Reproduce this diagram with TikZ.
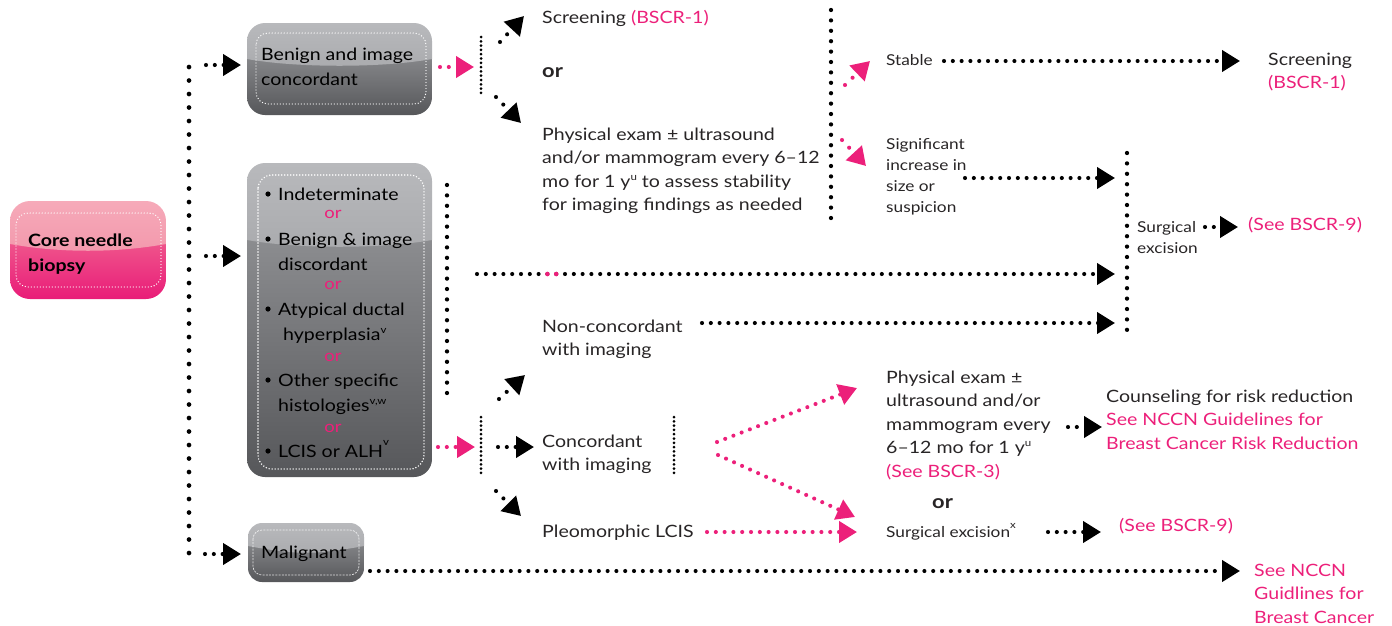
\documentclass[tikz,border=0pt]{standalone}
\usepackage{fontspec}
\setmainfont{Lato}[FakeStretch=1.15]
\usetikzlibrary{arrows.meta}

\definecolor{pinkc}{RGB}{236,32,122}
\definecolor{textc}{RGB}{40,37,38}
\definecolor{gA}{RGB}{184,185,188}
\definecolor{gB}{RGB}{170,171,174}
\definecolor{gC}{RGB}{142,143,146}
\definecolor{gD}{RGB}{86,87,90}
\definecolor{pA}{RGB}{246,170,185}
\definecolor{pB}{RGB}{243,152,172}
\definecolor{pC}{RGB}{240,95,143}
\definecolor{pD}{RGB}{233,28,120}

\newcommand\fsMain{\fontsize{17}{23.6}\selectfont}
\newcommand\fsBox{\fontsize{17}{25.5}\selectfont}
\newcommand\fsSmall{\fontsize{15}{21}\selectfont}
\newcommand\mlines[1]{\begin{tabular}[t]{@{}l@{}}#1\end{tabular}}
\newcommand\supx[2][7pt]{\raisebox{#1}{\fontsize{10}{10}\selectfont #2}}

% glossy rounded box: x1 y1 x2 y2 gloss-line colour-prefix radius
\newcommand\glossbox[7]{%
  \begin{scope}
    \clip[rounded corners=#7] (#1,#2) rectangle (#3,#4);
    \shade[top color=#6C, bottom color=#6D] (#1,#5-12) rectangle (#3,#4);
    \shade[top color=#6A, bottom color=#6B] (#1,#2) -- (#3,#2) -- (#3,#5)
      .. controls +(-50,9) and +(50,9) .. (#1,#5) -- cycle;
  \end{scope}}

\begin{document}
\begin{tikzpicture}[x=1pt,y=-1pt,
  trunk/.style={line width=4.7pt, line cap=round, dash pattern=on 0pt off 13.5pt},
  vdots/.style={line width=4.3pt, line cap=round, dash pattern=on 0pt off 10.4pt},
  hdots/.style={line width=4.1pt, line cap=round, dash pattern=on 0pt off 8.8pt},
  ddots/.style={line width=4.1pt, line cap=round, dash pattern=on 0pt off 10.5pt},
  bar/.style={line width=3.0pt, line cap=round, dash pattern=on 0pt off 4.3pt},
  tipk/.style={-{Triangle[length=18pt,width=21pt]}},
  blk/.style={hdots, tipk},
  pnk/.style={hdots, pinkc, tipk},
  dblk/.style={ddots, tipk},
  dpnk/.style={ddots, pinkc, tipk},
  innerdots/.style={white, line width=1.4pt, line cap=round, dash pattern=on 0pt off 3pt},
  txt/.style={anchor=base west, inner sep=0pt, font=\fsMain, text=textc},
  smalltxt/.style={anchor=base west, inner sep=0pt, font=\fsSmall, text=textc},
  boxtxt/.style={anchor=base west, inner sep=0pt, font=\fsBox, text=black},
  ortxt/.style={anchor=base, inner sep=0pt, font=\fontsize{16}{16}\selectfont, text=pinkc},
  boldor/.style={anchor=base west, inner sep=0pt, font=\fontsize{19}{19}\selectfont\bfseries, text=textc},
  pinktxt/.style={txt, text=pinkc}]

\useasboundingbox (0,0) rectangle (1392,625);

% ---------- boxes ----------
\glossbox{10}{201}{166}{299}{244}{p}{20pt}
\draw[innerdots, rounded corners=12pt] (16,213) rectangle (161,287);

\glossbox{247}{23}{432}{115}{59}{g}{18pt}
\draw[innerdots, rounded corners=12pt] (256,33) rectangle (426,104);

\glossbox{247}{163}{432}{477}{240}{g}{18pt}
\draw[innerdots, line width=1.6pt, rounded corners=14pt] (258,175) rectangle (424,469);

\glossbox{248}{523}{364}{582}{546}{g}{14pt}
\draw[white, line width=0.7pt, dash pattern=on 2pt off 1.2pt, opacity=0.8, rounded corners=9pt] (253,530) rectangle (359,575);

% ---------- box texts ----------
\node[boxtxt, font=\fsBox\bfseries] (core) at (28,246) {\mlines{Core needle\\biopsy}};
\node[boxtxt] (benign) at (261,60) {\mlines{Benign and image\\concordant}};

\foreach \yy in {194,239,309,380,451} \fill (268,\yy) circle (2.6pt);
\node[boxtxt] (indet) at (278,200) {Indeterminate};
\node[ortxt] (or1) at (333,218) {or};
\node[boxtxt] (discord) at (278,245) {\mlines{Benign \& image\\discordant}};
\node[ortxt] (or2) at (333,289) {or};
\node[boxtxt] (atyp) at (278,315) {\mlines{Atypical ductal\\\hspace{5pt}hyperplasia\supx{v}}};
\node[ortxt] (or3) at (333,361) {or};
\node[boxtxt] (other) at (278,386) {\mlines{Other specific\\histologies\supx{v,w}}};
\node[ortxt] (or4) at (333,432) {or};
\node[boxtxt] (lcis) at (278,457) {LCIS or ALH\supx[12pt]{v}};

\node[boxtxt] (malig) at (261,558) {Malignant};

% ---------- outcome texts ----------
\node[txt] (scr1) at (542,23) {Screening {\color{pinkc}(BSCR-1)}};
\node[boldor] (or5) at (542,77) {or};
\node[txt] (pe1) at (542,140) {\mlines{Physical exam ± ultrasound\\and/or mammogram every 6–12\\mo for 1 y\supx{u} to assess stability\\for imaging findings as needed}};

\node[smalltxt] (stable) at (886,65) {Stable};
\node[txt] (scr2) at (1268,65) {\mlines{Screening\\{\color{pinkc}(BSCR-1)}}};
\node[smalltxt] (signif) at (886,149) {\mlines{Significant\\increase in\\size or\\suspicion}};
\node[smalltxt] (surg) at (1137,232) {\mlines{Surgical\\excision}};
\node[pinktxt] (see9a) at (1248,230) {(See BSCR-9)};

\node[txt] (noncon) at (542,332) {\mlines{Non-concordant\\with imaging}};
\node[txt] (concord) at (542,447) {\mlines{Concordant\\with imaging}};
\node[txt] (pleo) at (542,537) {Pleomorphic LCIS};

\node[txt] (pe2) at (886,383) {\mlines{Physical exam ±\\ultrasound and/or\\mammogram every\\6–12 mo for 1 y\supx{u}\\{\color{pinkc}(See BSCR-3)}}};
\node[boldor] (or6) at (932,508) {or};
\node[smalltxt] (surg2) at (886,537) {Surgical excision\supx[9pt]{x}};
\node[pinktxt] (see9b) at (1119,531) {(See BSCR-9)};
\node[txt] (couns) at (1106,402) {\mlines{Counseling for risk reduction\\{\color{pinkc}See NCCN Guidelines for}\\{\color{pinkc}Breast Cancer Risk Reduction}}};
\node[pinktxt] (nccn) at (1254,576) {\mlines{See NCCN\\Guidlines for\\Breast Cancer}};

% ---------- connector end points ----------
\coordinate (trT) at (189,67);   \coordinate (trB) at (189,554);
\coordinate (a1s) at (206,65);   \coordinate (a1e) at (241,65);
\coordinate (a2s) at (206,256);  \coordinate (a2e) at (241,256);
\coordinate (a3s) at (205,554);  \coordinate (a3e) at (241,554);
\coordinate (b1s) at (440,67);   \coordinate (b1e) at (474,67);
\coordinate (bar1T) at (481,37); \coordinate (bar1B) at (481,97);
\coordinate (c1s) at (500,42);   \coordinate (c1e) at (524,16);
\coordinate (c2s) at (496,97);   \coordinate (c2e) at (521,123);
\coordinate (v1T) at (831,10);   \coordinate (v1B) at (831,224);
\coordinate (d1s) at (845,85);   \coordinate (d1e) at (870,61);
\coordinate (d2s) at (842,140);  \coordinate (d2e) at (866,166);
\coordinate (e1s) at (944,61);   \coordinate (e1e) at (1240,61);
\coordinate (e2s) at (965,178);  \coordinate (e2e) at (1115,178);
\coordinate (v2T) at (1127,153); \coordinate (v2B) at (1127,337);
\coordinate (e3s) at (1205,227); \coordinate (e3e) at (1238,227);
\coordinate (v3T) at (447,185);  \coordinate (v3B) at (447,398);
\coordinate (e4s) at (477,274);  \coordinate (e4e) at (1115,274);
\coordinate (e5s) at (702,323);  \coordinate (e5e) at (1115,323);
\coordinate (f1s) at (438,447);  \coordinate (f1e) at (475,447);
\coordinate (bar2T) at (481,417);\coordinate (bar2B) at (481,477);
\coordinate (g1s) at (499,399);  \coordinate (g1e) at (525,375);
\coordinate (g2s) at (498,447);  \coordinate (g2e) at (534,447);
\coordinate (g3s) at (496,491);  \coordinate (g3e) at (521,516);
\coordinate (bar3T) at (674,417);\coordinate (bar3B) at (674,477);
\coordinate (h1s) at (717,442);  \coordinate (h1e) at (857,388);
\coordinate (h2s) at (718,455);  \coordinate (h2e) at (855,517);
\coordinate (h3s) at (707,532);  \coordinate (h3e) at (857,532);
\coordinate (k1s) at (1068,427); \coordinate (k1e) at (1102,427);
\coordinate (k2s) at (1048,532); \coordinate (k2e) at (1101,532);
\coordinate (m1s) at (370,571);  \coordinate (m1e) at (1240,571);

% ---------- connectors ----------
\draw[trunk] (trT) -- (trB);
\draw[blk] (a1s) -- (a1e);
\draw[blk] (a2s) -- (a2e);
\draw[blk] (a3s) -- (a3e);

\draw[pnk] (b1s) -- (b1e);
\draw[bar] (bar1T) -- (bar1B);
\draw[dblk] (c1s) -- (c1e);
\draw[dblk] (c2s) -- (c2e);

\draw[vdots] (v1T) -- (v1B);
\draw[dpnk] (d1s) -- (d1e);
\draw[dpnk] (d2s) -- (d2e);
\draw[blk] (e1s) -- (e1e);
\draw[blk] (e2s) -- (e2e);
\draw[vdots] (v2T) -- (v2B);
\draw[blk] (e3s) -- (e3e);

\draw[vdots] (v3T) -- (v3B);
\draw[blk] (e4s) -- (e4e);
\fill[pinkc] (547.4,274) circle (2.3pt) (556.2,274) circle (2.3pt);
\draw[blk] (e5s) -- (e5e);

\draw[pnk] (f1s) -- (f1e);
\draw[bar] (bar2T) -- (bar2B);
\draw[dblk] (g1s) -- (g1e);
\draw[blk] (g2s) -- (g2e);
\draw[dblk] (g3s) -- (g3e);
\draw[bar] (bar3T) -- (bar3B);
\draw[pnk] (h1s) -- (h1e);
\draw[pnk] (h2s) -- (h2e);
\draw[pnk] (h3s) -- (h3e);
\draw[blk] (k1s) -- (k1e);
\draw[blk] (k2s) -- (k2e);
\draw[blk] (m1s) -- (m1e);
\end{tikzpicture}
\end{document}
